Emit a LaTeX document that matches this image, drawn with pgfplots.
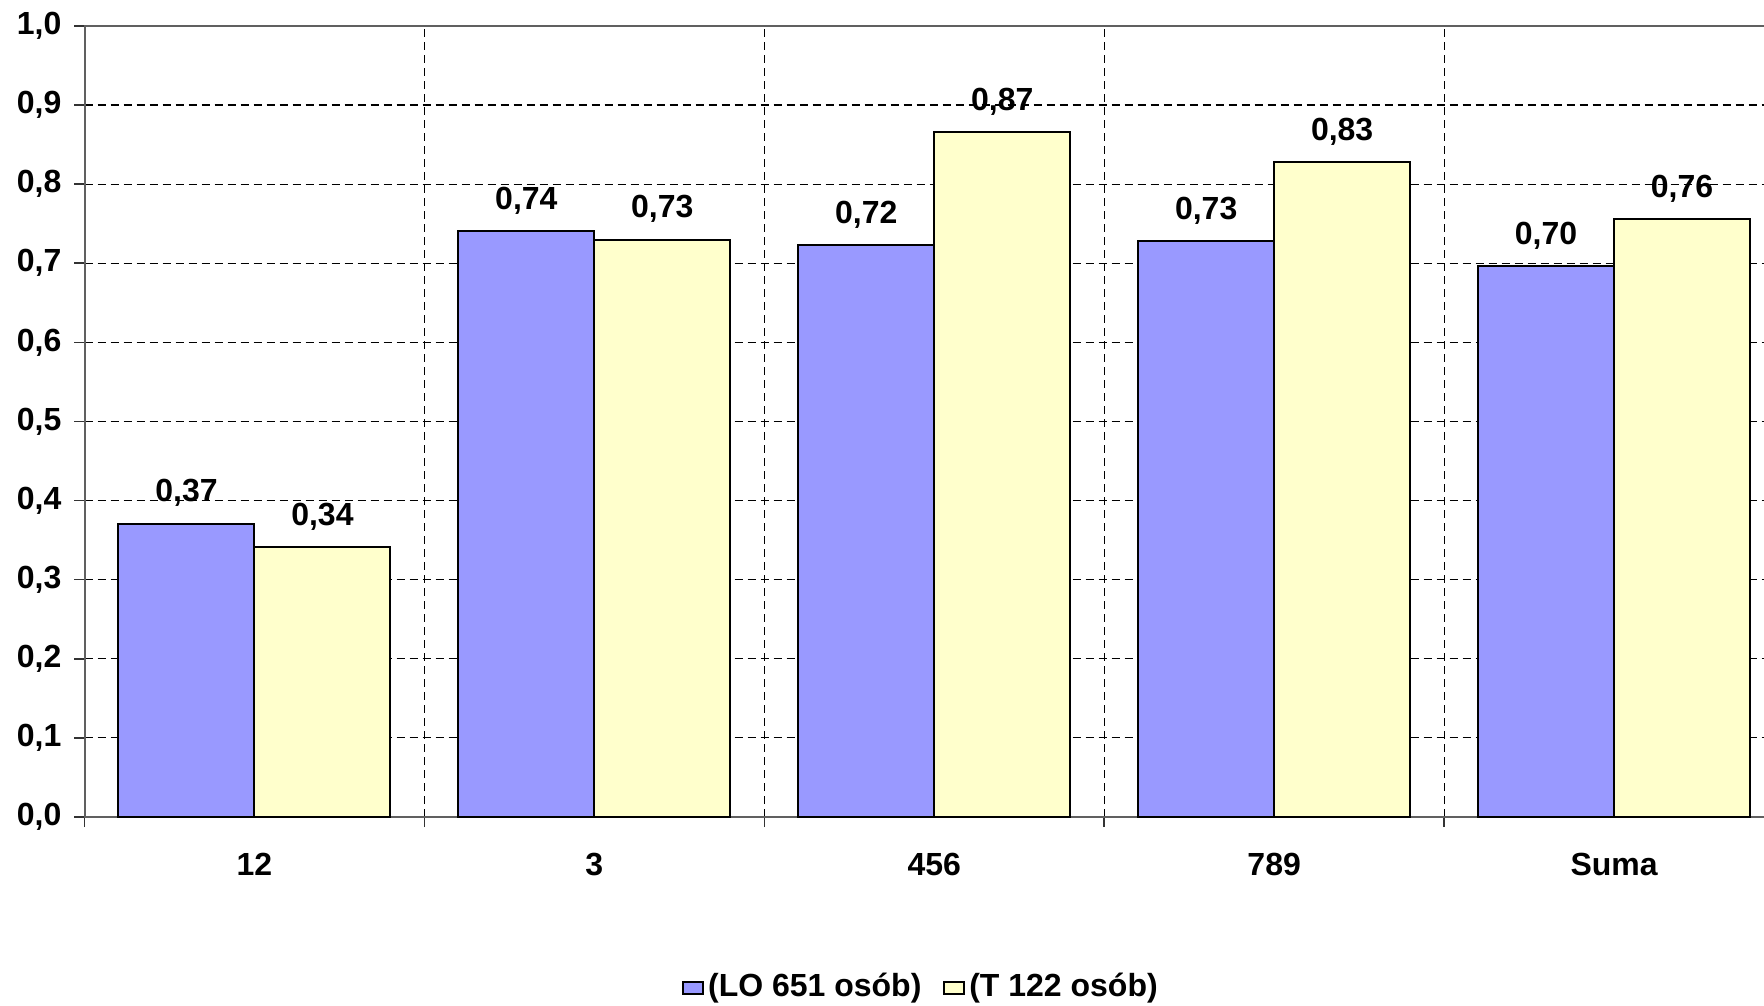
\documentclass[border=0pt]{standalone}
\usepackage{pgfplots}
\pgfplotsset{compat=1.18}
\usepackage{fontspec}
\setmainfont{Liberation Sans}
\definecolor{lo}{HTML}{9999FF}
\definecolor{tt}{HTML}{FFFFCC}
\newcommand{\lbl}{\fontsize{16}{18}\selectfont\bfseries}
\begin{document}
\begin{tikzpicture}
\begin{axis}[name=ax, scale only axis, width=849.75pt, height=395.5pt,
  ybar=0pt, bar width=0.4,
  xmin=-0.5, xmax=4.5, ymin=0, ymax=1,
  xtick={0,1,2,3,4}, xticklabels={12,3,456,789,Suma},
  major x tick style={draw=none},
  minor xtick={-0.5,0.5,1.5,2.5,3.5,4.5},
  xminorgrids,
  ytick={0,0.1,0.2,0.3,0.4,0.5,0.6,0.7,0.8,0.9,1.0},
  ymajorgrids,
  grid style={black, line width=0.6pt, dash pattern=on 4pt off 2.5pt},
  minor grid style={black, line width=0.6pt, dash pattern=on 4pt off 2.5pt},
  tick align=outside, tick pos=left,
  major tick length=5pt, minor tick length=5pt,
  every tick/.style={black!80, line width=0.8pt},
  axis line style={draw=gray!75!black, line width=1pt},
  /pgf/number format/assume math mode=true,
  tick label style={font=\lbl},
  y tick label style={/pgf/number format/fixed, /pgf/number format/fixed zerofill, /pgf/number format/precision=1, /pgf/number format/use comma, xshift=-3pt},
  x tick label style={yshift=-9.5pt},
  nodes near coords,
  nodes near coords style={font=\lbl, /pgf/number format/fixed, /pgf/number format/fixed zerofill, /pgf/number format/precision=2, /pgf/number format/use comma, yshift=4.5pt},
  legend columns=2,
  legend style={at={(0.4928,-0.2137)}, anchor=center, draw=none, font=\lbl,
    /tikz/every even column/.append style={column sep=9pt}},
  legend image code/.code={\draw[#1, draw=black, line width=0.9pt] (0pt,-0.4em) rectangle (10pt,0.22em);},
]
\addplot[fill=lo, draw=black, line width=1pt] coordinates {(0,0.371) (1,0.741) (2,0.723) (3,0.728) (4,0.696)};
\addplot[fill=tt, draw=black, line width=1pt] coordinates {(0,0.341) (1,0.730) (2,0.866) (3,0.828) (4,0.756)};
\legend{(LO 651 osób),(T 122 osób)}
\end{axis}
\pgfresetboundingbox
\path[use as bounding box] ([shift={(-42.25pt,-94pt)}]ax.south west) rectangle ([shift={(839.75pt,408.5pt)}]ax.south west);
\end{tikzpicture}
\end{document}
